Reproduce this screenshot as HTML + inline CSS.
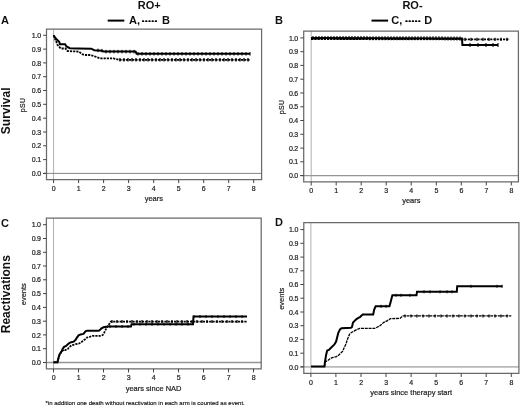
<!DOCTYPE html>
<html><head><meta charset="utf-8"><style>
html,body{margin:0;padding:0;background:#fff;width:520px;height:406px;overflow:hidden}
svg{display:block;filter:blur(0.3px)}
text{font-family:"Liberation Sans", sans-serif;fill:#111}
.tk{font-size:7.0px;letter-spacing:-0.25px;fill:#222;stroke:#222;stroke-width:0.2px}
.ax{font-size:7.5px;fill:#222;stroke:#222;stroke-width:0.2px}
.ax2{font-size:7px;fill:#222;letter-spacing:0.3px;stroke:#222;stroke-width:0.2px}
.pl{font-size:11px;font-weight:bold}
.ttl{font-size:11px;font-weight:bold}
.row{font-size:12px;font-weight:bold}
.fn{font-size:6px;stroke:#111;stroke-width:0.15px}
</style></head><body>
<svg width="520" height="406" viewBox="0 0 520 406">
<rect width="520" height="406" fill="#fff"/>
<line x1="53.6" y1="29.0" x2="53.6" y2="179.5" stroke="#b0b0b0" stroke-width="1"/>
<line x1="43.1" y1="173.4" x2="46.5" y2="173.4" stroke="#444" stroke-width="1"/>
<line x1="46.5" y1="173.4" x2="261.6" y2="173.4" stroke="#858585" stroke-width="1.0"/>
<path d="M46.5,179.5 L46.5,29.0 L261.6,29.0 L261.6,179.5 Z" fill="none" stroke="#6a6a6a" stroke-width="1.25"/>
<line x1="43.1" y1="173.4" x2="46.5" y2="173.4" stroke="#444" stroke-width="1"/>
<text x="40.8" y="176.0" text-anchor="end" class="tk">0.0</text>
<line x1="43.1" y1="159.6" x2="46.5" y2="159.6" stroke="#444" stroke-width="1"/>
<text x="40.8" y="162.2" text-anchor="end" class="tk">0.1</text>
<line x1="43.1" y1="145.8" x2="46.5" y2="145.8" stroke="#444" stroke-width="1"/>
<text x="40.8" y="148.4" text-anchor="end" class="tk">0.2</text>
<line x1="43.1" y1="132.0" x2="46.5" y2="132.0" stroke="#444" stroke-width="1"/>
<text x="40.8" y="134.6" text-anchor="end" class="tk">0.3</text>
<line x1="43.1" y1="118.2" x2="46.5" y2="118.2" stroke="#444" stroke-width="1"/>
<text x="40.8" y="120.8" text-anchor="end" class="tk">0.4</text>
<line x1="43.1" y1="104.3" x2="46.5" y2="104.3" stroke="#444" stroke-width="1"/>
<text x="40.8" y="106.9" text-anchor="end" class="tk">0.5</text>
<line x1="43.1" y1="90.5" x2="46.5" y2="90.5" stroke="#444" stroke-width="1"/>
<text x="40.8" y="93.1" text-anchor="end" class="tk">0.6</text>
<line x1="43.1" y1="76.7" x2="46.5" y2="76.7" stroke="#444" stroke-width="1"/>
<text x="40.8" y="79.3" text-anchor="end" class="tk">0.7</text>
<line x1="43.1" y1="62.9" x2="46.5" y2="62.9" stroke="#444" stroke-width="1"/>
<text x="40.8" y="65.5" text-anchor="end" class="tk">0.8</text>
<line x1="43.1" y1="49.1" x2="46.5" y2="49.1" stroke="#444" stroke-width="1"/>
<text x="40.8" y="51.7" text-anchor="end" class="tk">0.9</text>
<line x1="43.1" y1="35.3" x2="46.5" y2="35.3" stroke="#444" stroke-width="1"/>
<text x="40.8" y="37.9" text-anchor="end" class="tk">1.0</text>
<line x1="53.6" y1="179.5" x2="53.6" y2="183.1" stroke="#444" stroke-width="1"/>
<text x="53.6" y="191.0" text-anchor="middle" class="tk">0</text>
<line x1="78.6" y1="179.5" x2="78.6" y2="183.1" stroke="#444" stroke-width="1"/>
<text x="78.6" y="191.0" text-anchor="middle" class="tk">1</text>
<line x1="103.6" y1="179.5" x2="103.6" y2="183.1" stroke="#444" stroke-width="1"/>
<text x="103.6" y="191.0" text-anchor="middle" class="tk">2</text>
<line x1="128.6" y1="179.5" x2="128.6" y2="183.1" stroke="#444" stroke-width="1"/>
<text x="128.6" y="191.0" text-anchor="middle" class="tk">3</text>
<line x1="153.7" y1="179.5" x2="153.7" y2="183.1" stroke="#444" stroke-width="1"/>
<text x="153.7" y="191.0" text-anchor="middle" class="tk">4</text>
<line x1="178.7" y1="179.5" x2="178.7" y2="183.1" stroke="#444" stroke-width="1"/>
<text x="178.7" y="191.0" text-anchor="middle" class="tk">5</text>
<line x1="203.7" y1="179.5" x2="203.7" y2="183.1" stroke="#444" stroke-width="1"/>
<text x="203.7" y="191.0" text-anchor="middle" class="tk">6</text>
<line x1="228.7" y1="179.5" x2="228.7" y2="183.1" stroke="#444" stroke-width="1"/>
<text x="228.7" y="191.0" text-anchor="middle" class="tk">7</text>
<line x1="253.7" y1="179.5" x2="253.7" y2="183.1" stroke="#444" stroke-width="1"/>
<text x="253.7" y="191.0" text-anchor="middle" class="tk">8</text>
<line x1="311.2" y1="31.0" x2="311.2" y2="181.9" stroke="#b0b0b0" stroke-width="1"/>
<line x1="300.3" y1="175.6" x2="303.7" y2="175.6" stroke="#444" stroke-width="1"/>
<line x1="303.7" y1="175.6" x2="518.4" y2="175.6" stroke="#959595" stroke-width="1.2"/>
<path d="M303.7,181.9 L303.7,31.0 L518.4,31.0 L518.4,181.9 Z" fill="none" stroke="#6a6a6a" stroke-width="1.25"/>
<line x1="300.3" y1="175.6" x2="303.7" y2="175.6" stroke="#444" stroke-width="1"/>
<text x="298.0" y="178.2" text-anchor="end" class="tk">0.0</text>
<line x1="300.3" y1="161.8" x2="303.7" y2="161.8" stroke="#444" stroke-width="1"/>
<text x="298.0" y="164.4" text-anchor="end" class="tk">0.1</text>
<line x1="300.3" y1="148.1" x2="303.7" y2="148.1" stroke="#444" stroke-width="1"/>
<text x="298.0" y="150.7" text-anchor="end" class="tk">0.2</text>
<line x1="300.3" y1="134.3" x2="303.7" y2="134.3" stroke="#444" stroke-width="1"/>
<text x="298.0" y="136.9" text-anchor="end" class="tk">0.3</text>
<line x1="300.3" y1="120.5" x2="303.7" y2="120.5" stroke="#444" stroke-width="1"/>
<text x="298.0" y="123.1" text-anchor="end" class="tk">0.4</text>
<line x1="300.3" y1="106.8" x2="303.7" y2="106.8" stroke="#444" stroke-width="1"/>
<text x="298.0" y="109.3" text-anchor="end" class="tk">0.5</text>
<line x1="300.3" y1="93.0" x2="303.7" y2="93.0" stroke="#444" stroke-width="1"/>
<text x="298.0" y="95.6" text-anchor="end" class="tk">0.6</text>
<line x1="300.3" y1="79.2" x2="303.7" y2="79.2" stroke="#444" stroke-width="1"/>
<text x="298.0" y="81.8" text-anchor="end" class="tk">0.7</text>
<line x1="300.3" y1="65.4" x2="303.7" y2="65.4" stroke="#444" stroke-width="1"/>
<text x="298.0" y="68.0" text-anchor="end" class="tk">0.8</text>
<line x1="300.3" y1="51.7" x2="303.7" y2="51.7" stroke="#444" stroke-width="1"/>
<text x="298.0" y="54.3" text-anchor="end" class="tk">0.9</text>
<line x1="300.3" y1="37.9" x2="303.7" y2="37.9" stroke="#444" stroke-width="1"/>
<text x="298.0" y="40.5" text-anchor="end" class="tk">1.0</text>
<line x1="311.2" y1="181.9" x2="311.2" y2="185.5" stroke="#444" stroke-width="1"/>
<text x="311.2" y="193.4" text-anchor="middle" class="tk">0</text>
<line x1="336.2" y1="181.9" x2="336.2" y2="185.5" stroke="#444" stroke-width="1"/>
<text x="336.2" y="193.4" text-anchor="middle" class="tk">1</text>
<line x1="361.2" y1="181.9" x2="361.2" y2="185.5" stroke="#444" stroke-width="1"/>
<text x="361.2" y="193.4" text-anchor="middle" class="tk">2</text>
<line x1="386.2" y1="181.9" x2="386.2" y2="185.5" stroke="#444" stroke-width="1"/>
<text x="386.2" y="193.4" text-anchor="middle" class="tk">3</text>
<line x1="411.2" y1="181.9" x2="411.2" y2="185.5" stroke="#444" stroke-width="1"/>
<text x="411.2" y="193.4" text-anchor="middle" class="tk">4</text>
<line x1="436.3" y1="181.9" x2="436.3" y2="185.5" stroke="#444" stroke-width="1"/>
<text x="436.3" y="193.4" text-anchor="middle" class="tk">5</text>
<line x1="461.3" y1="181.9" x2="461.3" y2="185.5" stroke="#444" stroke-width="1"/>
<text x="461.3" y="193.4" text-anchor="middle" class="tk">6</text>
<line x1="486.3" y1="181.9" x2="486.3" y2="185.5" stroke="#444" stroke-width="1"/>
<text x="486.3" y="193.4" text-anchor="middle" class="tk">7</text>
<line x1="511.3" y1="181.9" x2="511.3" y2="185.5" stroke="#444" stroke-width="1"/>
<text x="511.3" y="193.4" text-anchor="middle" class="tk">8</text>
<line x1="53.5" y1="218.1" x2="53.5" y2="368.8" stroke="#b0b0b0" stroke-width="1"/>
<line x1="43.0" y1="362.5" x2="46.4" y2="362.5" stroke="#444" stroke-width="1"/>
<line x1="46.4" y1="362.5" x2="261.2" y2="362.5" stroke="#959595" stroke-width="1.3"/>
<path d="M46.4,368.8 L46.4,218.1 L261.2,218.1 L261.2,368.8 Z" fill="none" stroke="#6a6a6a" stroke-width="1.25"/>
<line x1="43.0" y1="362.5" x2="46.4" y2="362.5" stroke="#444" stroke-width="1"/>
<text x="40.7" y="365.1" text-anchor="end" class="tk">0.0</text>
<line x1="43.0" y1="348.7" x2="46.4" y2="348.7" stroke="#444" stroke-width="1"/>
<text x="40.7" y="351.3" text-anchor="end" class="tk">0.1</text>
<line x1="43.0" y1="334.9" x2="46.4" y2="334.9" stroke="#444" stroke-width="1"/>
<text x="40.7" y="337.5" text-anchor="end" class="tk">0.2</text>
<line x1="43.0" y1="321.2" x2="46.4" y2="321.2" stroke="#444" stroke-width="1"/>
<text x="40.7" y="323.8" text-anchor="end" class="tk">0.3</text>
<line x1="43.0" y1="307.4" x2="46.4" y2="307.4" stroke="#444" stroke-width="1"/>
<text x="40.7" y="310.0" text-anchor="end" class="tk">0.4</text>
<line x1="43.0" y1="293.6" x2="46.4" y2="293.6" stroke="#444" stroke-width="1"/>
<text x="40.7" y="296.2" text-anchor="end" class="tk">0.5</text>
<line x1="43.0" y1="279.8" x2="46.4" y2="279.8" stroke="#444" stroke-width="1"/>
<text x="40.7" y="282.4" text-anchor="end" class="tk">0.6</text>
<line x1="43.0" y1="266.0" x2="46.4" y2="266.0" stroke="#444" stroke-width="1"/>
<text x="40.7" y="268.6" text-anchor="end" class="tk">0.7</text>
<line x1="43.0" y1="252.3" x2="46.4" y2="252.3" stroke="#444" stroke-width="1"/>
<text x="40.7" y="254.9" text-anchor="end" class="tk">0.8</text>
<line x1="43.0" y1="238.5" x2="46.4" y2="238.5" stroke="#444" stroke-width="1"/>
<text x="40.7" y="241.1" text-anchor="end" class="tk">0.9</text>
<line x1="43.0" y1="224.7" x2="46.4" y2="224.7" stroke="#444" stroke-width="1"/>
<text x="40.7" y="227.3" text-anchor="end" class="tk">1.0</text>
<line x1="53.5" y1="368.8" x2="53.5" y2="372.4" stroke="#444" stroke-width="1"/>
<text x="53.5" y="380.3" text-anchor="middle" class="tk">0</text>
<line x1="78.5" y1="368.8" x2="78.5" y2="372.4" stroke="#444" stroke-width="1"/>
<text x="78.5" y="380.3" text-anchor="middle" class="tk">1</text>
<line x1="103.5" y1="368.8" x2="103.5" y2="372.4" stroke="#444" stroke-width="1"/>
<text x="103.5" y="380.3" text-anchor="middle" class="tk">2</text>
<line x1="128.5" y1="368.8" x2="128.5" y2="372.4" stroke="#444" stroke-width="1"/>
<text x="128.5" y="380.3" text-anchor="middle" class="tk">3</text>
<line x1="153.5" y1="368.8" x2="153.5" y2="372.4" stroke="#444" stroke-width="1"/>
<text x="153.5" y="380.3" text-anchor="middle" class="tk">4</text>
<line x1="178.5" y1="368.8" x2="178.5" y2="372.4" stroke="#444" stroke-width="1"/>
<text x="178.5" y="380.3" text-anchor="middle" class="tk">5</text>
<line x1="203.5" y1="368.8" x2="203.5" y2="372.4" stroke="#444" stroke-width="1"/>
<text x="203.5" y="380.3" text-anchor="middle" class="tk">6</text>
<line x1="228.5" y1="368.8" x2="228.5" y2="372.4" stroke="#444" stroke-width="1"/>
<text x="228.5" y="380.3" text-anchor="middle" class="tk">7</text>
<line x1="253.5" y1="368.8" x2="253.5" y2="372.4" stroke="#444" stroke-width="1"/>
<text x="253.5" y="380.3" text-anchor="middle" class="tk">8</text>
<line x1="310.9" y1="222.6" x2="310.9" y2="373.4" stroke="#b0b0b0" stroke-width="1"/>
<line x1="300.4" y1="366.9" x2="303.8" y2="366.9" stroke="#444" stroke-width="1"/>
<line x1="303.8" y1="366.9" x2="518.9" y2="366.9" stroke="#b8b8b8" stroke-width="1.6"/>
<path d="M303.8,373.4 L303.8,222.6 L518.9,222.6 L518.9,373.4 Z" fill="none" stroke="#6a6a6a" stroke-width="1.25"/>
<line x1="300.4" y1="366.9" x2="303.8" y2="366.9" stroke="#444" stroke-width="1"/>
<text x="298.1" y="369.5" text-anchor="end" class="tk">0.0</text>
<line x1="300.4" y1="353.2" x2="303.8" y2="353.2" stroke="#444" stroke-width="1"/>
<text x="298.1" y="355.8" text-anchor="end" class="tk">0.1</text>
<line x1="300.4" y1="339.4" x2="303.8" y2="339.4" stroke="#444" stroke-width="1"/>
<text x="298.1" y="342.0" text-anchor="end" class="tk">0.2</text>
<line x1="300.4" y1="325.7" x2="303.8" y2="325.7" stroke="#444" stroke-width="1"/>
<text x="298.1" y="328.3" text-anchor="end" class="tk">0.3</text>
<line x1="300.4" y1="312.0" x2="303.8" y2="312.0" stroke="#444" stroke-width="1"/>
<text x="298.1" y="314.6" text-anchor="end" class="tk">0.4</text>
<line x1="300.4" y1="298.2" x2="303.8" y2="298.2" stroke="#444" stroke-width="1"/>
<text x="298.1" y="300.9" text-anchor="end" class="tk">0.5</text>
<line x1="300.4" y1="284.5" x2="303.8" y2="284.5" stroke="#444" stroke-width="1"/>
<text x="298.1" y="287.1" text-anchor="end" class="tk">0.6</text>
<line x1="300.4" y1="270.8" x2="303.8" y2="270.8" stroke="#444" stroke-width="1"/>
<text x="298.1" y="273.4" text-anchor="end" class="tk">0.7</text>
<line x1="300.4" y1="257.1" x2="303.8" y2="257.1" stroke="#444" stroke-width="1"/>
<text x="298.1" y="259.7" text-anchor="end" class="tk">0.8</text>
<line x1="300.4" y1="243.3" x2="303.8" y2="243.3" stroke="#444" stroke-width="1"/>
<text x="298.1" y="245.9" text-anchor="end" class="tk">0.9</text>
<line x1="300.4" y1="229.6" x2="303.8" y2="229.6" stroke="#444" stroke-width="1"/>
<text x="298.1" y="232.2" text-anchor="end" class="tk">1.0</text>
<line x1="310.9" y1="373.4" x2="310.9" y2="377.0" stroke="#444" stroke-width="1"/>
<text x="310.9" y="384.9" text-anchor="middle" class="tk">0</text>
<line x1="335.9" y1="373.4" x2="335.9" y2="377.0" stroke="#444" stroke-width="1"/>
<text x="335.9" y="384.9" text-anchor="middle" class="tk">1</text>
<line x1="361.0" y1="373.4" x2="361.0" y2="377.0" stroke="#444" stroke-width="1"/>
<text x="361.0" y="384.9" text-anchor="middle" class="tk">2</text>
<line x1="386.0" y1="373.4" x2="386.0" y2="377.0" stroke="#444" stroke-width="1"/>
<text x="386.0" y="384.9" text-anchor="middle" class="tk">3</text>
<line x1="411.1" y1="373.4" x2="411.1" y2="377.0" stroke="#444" stroke-width="1"/>
<text x="411.1" y="384.9" text-anchor="middle" class="tk">4</text>
<line x1="436.1" y1="373.4" x2="436.1" y2="377.0" stroke="#444" stroke-width="1"/>
<text x="436.1" y="384.9" text-anchor="middle" class="tk">5</text>
<line x1="461.2" y1="373.4" x2="461.2" y2="377.0" stroke="#444" stroke-width="1"/>
<text x="461.2" y="384.9" text-anchor="middle" class="tk">6</text>
<line x1="486.2" y1="373.4" x2="486.2" y2="377.0" stroke="#444" stroke-width="1"/>
<text x="486.2" y="384.9" text-anchor="middle" class="tk">7</text>
<line x1="511.3" y1="373.4" x2="511.3" y2="377.0" stroke="#444" stroke-width="1"/>
<text x="511.3" y="384.9" text-anchor="middle" class="tk">8</text>
<polyline points="53.6,35.3 55.0,37.5 57.0,39.8 59.2,41.7 59.9,44.2 65.1,44.2 66.5,46.5 69.7,48.2 77.9,48.5 91.3,48.7 94.2,50.2 101.9,50.7 103.8,51.6 135.6,51.6 136.6,53.8 250.0,53.8" fill="none" stroke="#000" stroke-width="2.0" stroke-linejoin="miter"/>
<polyline points="53.6,35.3 56.5,42.3 57.4,44.8 60.8,48.5 65.4,48.5 67.6,51.1 78.8,51.6 80.8,53.1 82.7,54.5 85.6,55.0 90.4,55.0 93.3,55.9 96.2,56.9 100.0,58.3 113.5,58.3 117.3,59.3 119.2,59.8 250.0,59.8" fill="none" stroke="#000" stroke-width="1.8" stroke-linejoin="miter" stroke-dasharray="2.2,1.0"/>
<line x1="98.0" y1="48.6" x2="98.0" y2="52.2" stroke="#000" stroke-width="1.0"/>
<line x1="102.0" y1="48.9" x2="102.0" y2="52.5" stroke="#000" stroke-width="1.0"/>
<line x1="106.0" y1="49.8" x2="106.0" y2="53.4" stroke="#000" stroke-width="1.0"/>
<line x1="110.0" y1="49.8" x2="110.0" y2="53.4" stroke="#000" stroke-width="1.0"/>
<line x1="114.0" y1="49.8" x2="114.0" y2="53.4" stroke="#000" stroke-width="1.0"/>
<line x1="118.0" y1="49.8" x2="118.0" y2="53.4" stroke="#000" stroke-width="1.0"/>
<line x1="122.0" y1="49.8" x2="122.0" y2="53.4" stroke="#000" stroke-width="1.0"/>
<line x1="126.0" y1="49.8" x2="126.0" y2="53.4" stroke="#000" stroke-width="1.0"/>
<line x1="130.0" y1="49.8" x2="130.0" y2="53.4" stroke="#000" stroke-width="1.0"/>
<line x1="134.0" y1="49.8" x2="134.0" y2="53.4" stroke="#000" stroke-width="1.0"/>
<line x1="138.0" y1="52.0" x2="138.0" y2="55.6" stroke="#000" stroke-width="1.0"/>
<line x1="142.0" y1="52.0" x2="142.0" y2="55.6" stroke="#000" stroke-width="1.0"/>
<line x1="146.0" y1="52.0" x2="146.0" y2="55.6" stroke="#000" stroke-width="1.0"/>
<line x1="150.0" y1="52.0" x2="150.0" y2="55.6" stroke="#000" stroke-width="1.0"/>
<line x1="154.0" y1="52.0" x2="154.0" y2="55.6" stroke="#000" stroke-width="1.0"/>
<line x1="158.0" y1="52.0" x2="158.0" y2="55.6" stroke="#000" stroke-width="1.0"/>
<line x1="162.0" y1="52.0" x2="162.0" y2="55.6" stroke="#000" stroke-width="1.0"/>
<line x1="166.0" y1="52.0" x2="166.0" y2="55.6" stroke="#000" stroke-width="1.0"/>
<line x1="170.0" y1="52.0" x2="170.0" y2="55.6" stroke="#000" stroke-width="1.0"/>
<line x1="174.0" y1="52.0" x2="174.0" y2="55.6" stroke="#000" stroke-width="1.0"/>
<line x1="178.0" y1="52.0" x2="178.0" y2="55.6" stroke="#000" stroke-width="1.0"/>
<line x1="182.0" y1="52.0" x2="182.0" y2="55.6" stroke="#000" stroke-width="1.0"/>
<line x1="186.0" y1="52.0" x2="186.0" y2="55.6" stroke="#000" stroke-width="1.0"/>
<line x1="190.0" y1="52.0" x2="190.0" y2="55.6" stroke="#000" stroke-width="1.0"/>
<line x1="194.0" y1="52.0" x2="194.0" y2="55.6" stroke="#000" stroke-width="1.0"/>
<line x1="198.0" y1="52.0" x2="198.0" y2="55.6" stroke="#000" stroke-width="1.0"/>
<line x1="202.0" y1="52.0" x2="202.0" y2="55.6" stroke="#000" stroke-width="1.0"/>
<line x1="206.0" y1="52.0" x2="206.0" y2="55.6" stroke="#000" stroke-width="1.0"/>
<line x1="210.0" y1="52.0" x2="210.0" y2="55.6" stroke="#000" stroke-width="1.0"/>
<line x1="214.0" y1="52.0" x2="214.0" y2="55.6" stroke="#000" stroke-width="1.0"/>
<line x1="218.0" y1="52.0" x2="218.0" y2="55.6" stroke="#000" stroke-width="1.0"/>
<line x1="222.0" y1="52.0" x2="222.0" y2="55.6" stroke="#000" stroke-width="1.0"/>
<line x1="226.0" y1="52.0" x2="226.0" y2="55.6" stroke="#000" stroke-width="1.0"/>
<line x1="230.0" y1="52.0" x2="230.0" y2="55.6" stroke="#000" stroke-width="1.0"/>
<line x1="234.0" y1="52.0" x2="234.0" y2="55.6" stroke="#000" stroke-width="1.0"/>
<line x1="238.0" y1="52.0" x2="238.0" y2="55.6" stroke="#000" stroke-width="1.0"/>
<line x1="242.0" y1="52.0" x2="242.0" y2="55.6" stroke="#000" stroke-width="1.0"/>
<line x1="246.0" y1="52.0" x2="246.0" y2="55.6" stroke="#000" stroke-width="1.0"/>
<line x1="250.0" y1="52.0" x2="250.0" y2="55.6" stroke="#000" stroke-width="1.0"/>
<line x1="120.0" y1="58.0" x2="120.0" y2="61.6" stroke="#000" stroke-width="1.3"/>
<line x1="124.0" y1="58.0" x2="124.0" y2="61.6" stroke="#000" stroke-width="1.3"/>
<line x1="128.0" y1="58.0" x2="128.0" y2="61.6" stroke="#000" stroke-width="1.3"/>
<line x1="132.0" y1="58.0" x2="132.0" y2="61.6" stroke="#000" stroke-width="1.3"/>
<line x1="136.0" y1="58.0" x2="136.0" y2="61.6" stroke="#000" stroke-width="1.3"/>
<line x1="140.0" y1="58.0" x2="140.0" y2="61.6" stroke="#000" stroke-width="1.3"/>
<line x1="144.0" y1="58.0" x2="144.0" y2="61.6" stroke="#000" stroke-width="1.3"/>
<line x1="148.0" y1="58.0" x2="148.0" y2="61.6" stroke="#000" stroke-width="1.3"/>
<line x1="152.0" y1="58.0" x2="152.0" y2="61.6" stroke="#000" stroke-width="1.3"/>
<line x1="156.0" y1="58.0" x2="156.0" y2="61.6" stroke="#000" stroke-width="1.3"/>
<line x1="160.0" y1="58.0" x2="160.0" y2="61.6" stroke="#000" stroke-width="1.3"/>
<line x1="164.0" y1="58.0" x2="164.0" y2="61.6" stroke="#000" stroke-width="1.3"/>
<line x1="168.0" y1="58.0" x2="168.0" y2="61.6" stroke="#000" stroke-width="1.3"/>
<line x1="172.0" y1="58.0" x2="172.0" y2="61.6" stroke="#000" stroke-width="1.3"/>
<line x1="176.0" y1="58.0" x2="176.0" y2="61.6" stroke="#000" stroke-width="1.3"/>
<line x1="180.0" y1="58.0" x2="180.0" y2="61.6" stroke="#000" stroke-width="1.3"/>
<line x1="184.0" y1="58.0" x2="184.0" y2="61.6" stroke="#000" stroke-width="1.3"/>
<line x1="188.0" y1="58.0" x2="188.0" y2="61.6" stroke="#000" stroke-width="1.3"/>
<line x1="192.0" y1="58.0" x2="192.0" y2="61.6" stroke="#000" stroke-width="1.3"/>
<line x1="196.0" y1="58.0" x2="196.0" y2="61.6" stroke="#000" stroke-width="1.3"/>
<line x1="200.0" y1="58.0" x2="200.0" y2="61.6" stroke="#000" stroke-width="1.3"/>
<line x1="204.0" y1="58.0" x2="204.0" y2="61.6" stroke="#000" stroke-width="1.3"/>
<line x1="208.0" y1="58.0" x2="208.0" y2="61.6" stroke="#000" stroke-width="1.3"/>
<line x1="212.0" y1="58.0" x2="212.0" y2="61.6" stroke="#000" stroke-width="1.3"/>
<line x1="216.0" y1="58.0" x2="216.0" y2="61.6" stroke="#000" stroke-width="1.3"/>
<line x1="220.0" y1="58.0" x2="220.0" y2="61.6" stroke="#000" stroke-width="1.3"/>
<line x1="224.0" y1="58.0" x2="224.0" y2="61.6" stroke="#000" stroke-width="1.3"/>
<line x1="228.0" y1="58.0" x2="228.0" y2="61.6" stroke="#000" stroke-width="1.3"/>
<line x1="232.0" y1="58.0" x2="232.0" y2="61.6" stroke="#000" stroke-width="1.3"/>
<line x1="236.0" y1="58.0" x2="236.0" y2="61.6" stroke="#000" stroke-width="1.3"/>
<line x1="240.0" y1="58.0" x2="240.0" y2="61.6" stroke="#000" stroke-width="1.3"/>
<line x1="244.0" y1="58.0" x2="244.0" y2="61.6" stroke="#000" stroke-width="1.3"/>
<line x1="248.0" y1="58.0" x2="248.0" y2="61.6" stroke="#000" stroke-width="1.3"/>
<polyline points="311.0,38.0 462.0,38.4 462.4,45.1 498.0,45.1" fill="none" stroke="#000" stroke-width="2.0" stroke-linejoin="miter"/>
<polyline points="311.0,39.2 509.5,39.3" fill="none" stroke="#000" stroke-width="1.7" stroke-linejoin="miter" stroke-dasharray="2.2,1.0"/>
<line x1="313.0" y1="36.0" x2="313.0" y2="40.0" stroke="#000" stroke-width="1.1"/>
<line x1="316.0" y1="36.0" x2="316.0" y2="40.0" stroke="#000" stroke-width="1.1"/>
<line x1="319.0" y1="36.0" x2="319.0" y2="40.0" stroke="#000" stroke-width="1.1"/>
<line x1="322.0" y1="36.0" x2="322.0" y2="40.0" stroke="#000" stroke-width="1.1"/>
<line x1="325.0" y1="36.0" x2="325.0" y2="40.0" stroke="#000" stroke-width="1.1"/>
<line x1="328.0" y1="36.0" x2="328.0" y2="40.0" stroke="#000" stroke-width="1.1"/>
<line x1="331.0" y1="36.1" x2="331.0" y2="40.1" stroke="#000" stroke-width="1.1"/>
<line x1="334.0" y1="36.1" x2="334.0" y2="40.1" stroke="#000" stroke-width="1.1"/>
<line x1="337.0" y1="36.1" x2="337.0" y2="40.1" stroke="#000" stroke-width="1.1"/>
<line x1="340.0" y1="36.1" x2="340.0" y2="40.1" stroke="#000" stroke-width="1.1"/>
<line x1="343.0" y1="36.1" x2="343.0" y2="40.1" stroke="#000" stroke-width="1.1"/>
<line x1="346.0" y1="36.1" x2="346.0" y2="40.1" stroke="#000" stroke-width="1.1"/>
<line x1="349.0" y1="36.1" x2="349.0" y2="40.1" stroke="#000" stroke-width="1.1"/>
<line x1="352.0" y1="36.1" x2="352.0" y2="40.1" stroke="#000" stroke-width="1.1"/>
<line x1="355.0" y1="36.1" x2="355.0" y2="40.1" stroke="#000" stroke-width="1.1"/>
<line x1="358.0" y1="36.1" x2="358.0" y2="40.1" stroke="#000" stroke-width="1.1"/>
<line x1="361.0" y1="36.1" x2="361.0" y2="40.1" stroke="#000" stroke-width="1.1"/>
<line x1="364.0" y1="36.1" x2="364.0" y2="40.1" stroke="#000" stroke-width="1.1"/>
<line x1="367.0" y1="36.1" x2="367.0" y2="40.1" stroke="#000" stroke-width="1.1"/>
<line x1="370.0" y1="36.2" x2="370.0" y2="40.2" stroke="#000" stroke-width="1.1"/>
<line x1="373.0" y1="36.2" x2="373.0" y2="40.2" stroke="#000" stroke-width="1.1"/>
<line x1="376.0" y1="36.2" x2="376.0" y2="40.2" stroke="#000" stroke-width="1.1"/>
<line x1="379.0" y1="36.2" x2="379.0" y2="40.2" stroke="#000" stroke-width="1.1"/>
<line x1="382.0" y1="36.2" x2="382.0" y2="40.2" stroke="#000" stroke-width="1.1"/>
<line x1="385.0" y1="36.2" x2="385.0" y2="40.2" stroke="#000" stroke-width="1.1"/>
<line x1="388.0" y1="36.2" x2="388.0" y2="40.2" stroke="#000" stroke-width="1.1"/>
<line x1="391.0" y1="36.2" x2="391.0" y2="40.2" stroke="#000" stroke-width="1.1"/>
<line x1="394.0" y1="36.2" x2="394.0" y2="40.2" stroke="#000" stroke-width="1.1"/>
<line x1="397.0" y1="36.2" x2="397.0" y2="40.2" stroke="#000" stroke-width="1.1"/>
<line x1="400.0" y1="36.2" x2="400.0" y2="40.2" stroke="#000" stroke-width="1.1"/>
<line x1="403.0" y1="36.2" x2="403.0" y2="40.2" stroke="#000" stroke-width="1.1"/>
<line x1="406.0" y1="36.3" x2="406.0" y2="40.3" stroke="#000" stroke-width="1.1"/>
<line x1="409.0" y1="36.3" x2="409.0" y2="40.3" stroke="#000" stroke-width="1.1"/>
<line x1="412.0" y1="36.3" x2="412.0" y2="40.3" stroke="#000" stroke-width="1.1"/>
<line x1="415.0" y1="36.3" x2="415.0" y2="40.3" stroke="#000" stroke-width="1.1"/>
<line x1="418.0" y1="36.3" x2="418.0" y2="40.3" stroke="#000" stroke-width="1.1"/>
<line x1="421.0" y1="36.3" x2="421.0" y2="40.3" stroke="#000" stroke-width="1.1"/>
<line x1="424.0" y1="36.3" x2="424.0" y2="40.3" stroke="#000" stroke-width="1.1"/>
<line x1="427.0" y1="36.3" x2="427.0" y2="40.3" stroke="#000" stroke-width="1.1"/>
<line x1="430.0" y1="36.3" x2="430.0" y2="40.3" stroke="#000" stroke-width="1.1"/>
<line x1="433.0" y1="36.3" x2="433.0" y2="40.3" stroke="#000" stroke-width="1.1"/>
<line x1="436.0" y1="36.3" x2="436.0" y2="40.3" stroke="#000" stroke-width="1.1"/>
<line x1="439.0" y1="36.3" x2="439.0" y2="40.3" stroke="#000" stroke-width="1.1"/>
<line x1="442.0" y1="36.3" x2="442.0" y2="40.3" stroke="#000" stroke-width="1.1"/>
<line x1="445.0" y1="36.4" x2="445.0" y2="40.4" stroke="#000" stroke-width="1.1"/>
<line x1="448.0" y1="36.4" x2="448.0" y2="40.4" stroke="#000" stroke-width="1.1"/>
<line x1="451.0" y1="36.4" x2="451.0" y2="40.4" stroke="#000" stroke-width="1.1"/>
<line x1="454.0" y1="36.4" x2="454.0" y2="40.4" stroke="#000" stroke-width="1.1"/>
<line x1="457.0" y1="36.4" x2="457.0" y2="40.4" stroke="#000" stroke-width="1.1"/>
<line x1="460.0" y1="36.4" x2="460.0" y2="40.4" stroke="#000" stroke-width="1.1"/>
<line x1="470.0" y1="43.1" x2="470.0" y2="47.1" stroke="#000" stroke-width="1.1"/>
<line x1="478.0" y1="43.1" x2="478.0" y2="47.1" stroke="#000" stroke-width="1.1"/>
<line x1="486.0" y1="43.1" x2="486.0" y2="47.1" stroke="#000" stroke-width="1.1"/>
<line x1="493.0" y1="43.1" x2="493.0" y2="47.1" stroke="#000" stroke-width="1.1"/>
<line x1="498.0" y1="43.1" x2="498.0" y2="47.1" stroke="#000" stroke-width="1.1"/>
<line x1="465.0" y1="37.7" x2="465.0" y2="40.9" stroke="#000" stroke-width="1.2"/>
<line x1="471.0" y1="37.7" x2="471.0" y2="40.9" stroke="#000" stroke-width="1.2"/>
<line x1="477.0" y1="37.7" x2="477.0" y2="40.9" stroke="#000" stroke-width="1.2"/>
<line x1="483.0" y1="37.7" x2="483.0" y2="40.9" stroke="#000" stroke-width="1.2"/>
<line x1="489.0" y1="37.7" x2="489.0" y2="40.9" stroke="#000" stroke-width="1.2"/>
<line x1="495.0" y1="37.7" x2="495.0" y2="40.9" stroke="#000" stroke-width="1.2"/>
<line x1="501.0" y1="37.7" x2="501.0" y2="40.9" stroke="#000" stroke-width="1.2"/>
<line x1="507.0" y1="37.7" x2="507.0" y2="40.9" stroke="#000" stroke-width="1.2"/>
<polyline points="53.5,362.3 57.4,362.3 58.4,358.5 59.4,354.6 61.4,351.6 62.8,348.6 64.3,346.7 65.8,346.2 67.3,344.7 69.2,343.2 71.2,342.2 73.7,341.7 75.6,339.8 77.1,337.3 78.6,335.3 80.6,334.4 83.5,333.9 85.5,331.4 87.0,330.7 98.8,330.7 100.4,329.5 101.5,328.3 103.5,327.3 108.0,326.5 131.0,326.5 131.5,324.2 193.0,324.2 193.5,316.6 247.0,316.6" fill="none" stroke="#000" stroke-width="2.0" stroke-linejoin="miter"/>
<polyline points="53.5,362.3 57.4,362.3 58.4,358.5 59.4,355.5 61.0,352.5 62.3,351.1 63.8,349.6 65.3,350.1 67.8,349.1 69.2,347.2 71.7,345.2 74.2,344.7 75.6,344.2 78.6,343.7 80.6,342.7 82.5,341.3 84.5,339.8 87.0,337.6 90.4,336.6 92.7,335.8 100.4,335.8 102.7,335.1 104.2,332.8 105.4,330.1 107.3,327.0 109.6,323.5 110.8,321.6 247.0,321.6" fill="none" stroke="#000" stroke-width="1.7" stroke-linejoin="miter" stroke-dasharray="2.2,1.0"/>
<line x1="110.0" y1="325.0" x2="110.0" y2="328.0" stroke="#000" stroke-width="1.0"/>
<line x1="116.0" y1="325.0" x2="116.0" y2="328.0" stroke="#000" stroke-width="1.0"/>
<line x1="122.0" y1="325.0" x2="122.0" y2="328.0" stroke="#000" stroke-width="1.0"/>
<line x1="128.0" y1="325.0" x2="128.0" y2="328.0" stroke="#000" stroke-width="1.0"/>
<line x1="134.0" y1="322.7" x2="134.0" y2="325.7" stroke="#000" stroke-width="1.0"/>
<line x1="140.0" y1="322.7" x2="140.0" y2="325.7" stroke="#000" stroke-width="1.0"/>
<line x1="146.0" y1="322.7" x2="146.0" y2="325.7" stroke="#000" stroke-width="1.0"/>
<line x1="152.0" y1="322.7" x2="152.0" y2="325.7" stroke="#000" stroke-width="1.0"/>
<line x1="158.0" y1="322.7" x2="158.0" y2="325.7" stroke="#000" stroke-width="1.0"/>
<line x1="164.0" y1="322.7" x2="164.0" y2="325.7" stroke="#000" stroke-width="1.0"/>
<line x1="170.0" y1="322.7" x2="170.0" y2="325.7" stroke="#000" stroke-width="1.0"/>
<line x1="176.0" y1="322.7" x2="176.0" y2="325.7" stroke="#000" stroke-width="1.0"/>
<line x1="182.0" y1="322.7" x2="182.0" y2="325.7" stroke="#000" stroke-width="1.0"/>
<line x1="188.0" y1="322.7" x2="188.0" y2="325.7" stroke="#000" stroke-width="1.0"/>
<line x1="194.0" y1="315.1" x2="194.0" y2="318.1" stroke="#000" stroke-width="1.0"/>
<line x1="200.0" y1="315.1" x2="200.0" y2="318.1" stroke="#000" stroke-width="1.0"/>
<line x1="206.0" y1="315.1" x2="206.0" y2="318.1" stroke="#000" stroke-width="1.0"/>
<line x1="212.0" y1="315.1" x2="212.0" y2="318.1" stroke="#000" stroke-width="1.0"/>
<line x1="218.0" y1="315.1" x2="218.0" y2="318.1" stroke="#000" stroke-width="1.0"/>
<line x1="224.0" y1="315.1" x2="224.0" y2="318.1" stroke="#000" stroke-width="1.0"/>
<line x1="230.0" y1="315.1" x2="230.0" y2="318.1" stroke="#000" stroke-width="1.0"/>
<line x1="236.0" y1="315.1" x2="236.0" y2="318.1" stroke="#000" stroke-width="1.0"/>
<line x1="242.0" y1="315.1" x2="242.0" y2="318.1" stroke="#000" stroke-width="1.0"/>
<line x1="112.0" y1="320.1" x2="112.0" y2="323.1" stroke="#000" stroke-width="1.2"/>
<line x1="117.0" y1="320.1" x2="117.0" y2="323.1" stroke="#000" stroke-width="1.2"/>
<line x1="122.0" y1="320.1" x2="122.0" y2="323.1" stroke="#000" stroke-width="1.2"/>
<line x1="127.0" y1="320.1" x2="127.0" y2="323.1" stroke="#000" stroke-width="1.2"/>
<line x1="132.0" y1="320.1" x2="132.0" y2="323.1" stroke="#000" stroke-width="1.2"/>
<line x1="137.0" y1="320.1" x2="137.0" y2="323.1" stroke="#000" stroke-width="1.2"/>
<line x1="142.0" y1="320.1" x2="142.0" y2="323.1" stroke="#000" stroke-width="1.2"/>
<line x1="147.0" y1="320.1" x2="147.0" y2="323.1" stroke="#000" stroke-width="1.2"/>
<line x1="152.0" y1="320.1" x2="152.0" y2="323.1" stroke="#000" stroke-width="1.2"/>
<line x1="157.0" y1="320.1" x2="157.0" y2="323.1" stroke="#000" stroke-width="1.2"/>
<line x1="162.0" y1="320.1" x2="162.0" y2="323.1" stroke="#000" stroke-width="1.2"/>
<line x1="167.0" y1="320.1" x2="167.0" y2="323.1" stroke="#000" stroke-width="1.2"/>
<line x1="172.0" y1="320.1" x2="172.0" y2="323.1" stroke="#000" stroke-width="1.2"/>
<line x1="177.0" y1="320.1" x2="177.0" y2="323.1" stroke="#000" stroke-width="1.2"/>
<line x1="182.0" y1="320.1" x2="182.0" y2="323.1" stroke="#000" stroke-width="1.2"/>
<line x1="187.0" y1="320.1" x2="187.0" y2="323.1" stroke="#000" stroke-width="1.2"/>
<line x1="192.0" y1="320.1" x2="192.0" y2="323.1" stroke="#000" stroke-width="1.2"/>
<line x1="197.0" y1="320.1" x2="197.0" y2="323.1" stroke="#000" stroke-width="1.2"/>
<line x1="202.0" y1="320.1" x2="202.0" y2="323.1" stroke="#000" stroke-width="1.2"/>
<line x1="207.0" y1="320.1" x2="207.0" y2="323.1" stroke="#000" stroke-width="1.2"/>
<line x1="212.0" y1="320.1" x2="212.0" y2="323.1" stroke="#000" stroke-width="1.2"/>
<line x1="217.0" y1="320.1" x2="217.0" y2="323.1" stroke="#000" stroke-width="1.2"/>
<line x1="222.0" y1="320.1" x2="222.0" y2="323.1" stroke="#000" stroke-width="1.2"/>
<line x1="227.0" y1="320.1" x2="227.0" y2="323.1" stroke="#000" stroke-width="1.2"/>
<line x1="232.0" y1="320.1" x2="232.0" y2="323.1" stroke="#000" stroke-width="1.2"/>
<line x1="237.0" y1="320.1" x2="237.0" y2="323.1" stroke="#000" stroke-width="1.2"/>
<line x1="242.0" y1="320.1" x2="242.0" y2="323.1" stroke="#000" stroke-width="1.2"/>
<polyline points="311.0,366.6 324.4,366.6 325.0,361.6 326.1,354.9 327.2,350.5 328.9,349.9 330.5,348.3 332.2,346.6 334.4,344.4 336.1,341.6 337.2,337.2 338.3,332.8 340.0,329.4 341.5,328.3 351.0,327.8 352.0,327.0 353.0,322.6 354.4,321.1 355.9,319.6 357.9,318.2 359.9,317.2 361.3,315.7 362.8,314.4 373.2,314.4 374.1,309.8 375.6,306.3 389.4,306.3 390.4,302.9 391.4,298.9 392.4,295.3 416.5,295.3 417.0,291.8 456.8,291.8 457.2,286.3 502.4,286.3" fill="none" stroke="#000" stroke-width="2.0" stroke-linejoin="miter"/>
<polyline points="324.4,366.6 325.5,361.6 327.8,360.5 330.0,358.8 332.2,357.7 334.4,357.2 336.6,356.6 338.8,354.9 341.1,352.7 342.7,351.1 344.4,347.2 346.1,343.8 347.2,340.0 348.3,337.2 349.4,334.4 351.0,332.8 353.3,331.5 356.6,329.6 359.9,328.4 374.6,328.4 376.6,327.5 379.6,326.0 383.5,322.6 387.4,320.6 390.4,318.6 400.0,318.4 403.0,315.9 511.3,315.9" fill="none" stroke="#000" stroke-width="1.3" stroke-linejoin="miter" stroke-dasharray="3,0.8"/>
<line x1="381.0" y1="304.8" x2="381.0" y2="307.8" stroke="#000" stroke-width="1.0"/>
<line x1="386.0" y1="304.8" x2="386.0" y2="307.8" stroke="#000" stroke-width="1.0"/>
<line x1="396.0" y1="293.8" x2="396.0" y2="296.8" stroke="#000" stroke-width="1.0"/>
<line x1="401.0" y1="293.8" x2="401.0" y2="296.8" stroke="#000" stroke-width="1.0"/>
<line x1="410.0" y1="293.8" x2="410.0" y2="296.8" stroke="#000" stroke-width="1.0"/>
<line x1="424.0" y1="290.3" x2="424.0" y2="293.3" stroke="#000" stroke-width="1.0"/>
<line x1="430.0" y1="290.3" x2="430.0" y2="293.3" stroke="#000" stroke-width="1.0"/>
<line x1="440.0" y1="290.3" x2="440.0" y2="293.3" stroke="#000" stroke-width="1.0"/>
<line x1="447.0" y1="290.3" x2="447.0" y2="293.3" stroke="#000" stroke-width="1.0"/>
<line x1="452.0" y1="290.3" x2="452.0" y2="293.3" stroke="#000" stroke-width="1.0"/>
<line x1="471.0" y1="284.8" x2="471.0" y2="287.8" stroke="#000" stroke-width="1.0"/>
<line x1="497.0" y1="284.8" x2="497.0" y2="287.8" stroke="#000" stroke-width="1.0"/>
<line x1="502.0" y1="284.8" x2="502.0" y2="287.8" stroke="#000" stroke-width="1.0"/>
<line x1="405.0" y1="314.4" x2="405.0" y2="317.4" stroke="#000" stroke-width="1.2"/>
<line x1="411.0" y1="314.4" x2="411.0" y2="317.4" stroke="#000" stroke-width="1.2"/>
<line x1="417.0" y1="314.4" x2="417.0" y2="317.4" stroke="#000" stroke-width="1.2"/>
<line x1="423.0" y1="314.4" x2="423.0" y2="317.4" stroke="#000" stroke-width="1.2"/>
<line x1="429.0" y1="314.4" x2="429.0" y2="317.4" stroke="#000" stroke-width="1.2"/>
<line x1="435.0" y1="314.4" x2="435.0" y2="317.4" stroke="#000" stroke-width="1.2"/>
<line x1="441.0" y1="314.4" x2="441.0" y2="317.4" stroke="#000" stroke-width="1.2"/>
<line x1="447.0" y1="314.4" x2="447.0" y2="317.4" stroke="#000" stroke-width="1.2"/>
<line x1="453.0" y1="314.4" x2="453.0" y2="317.4" stroke="#000" stroke-width="1.2"/>
<line x1="459.0" y1="314.4" x2="459.0" y2="317.4" stroke="#000" stroke-width="1.2"/>
<line x1="465.0" y1="314.4" x2="465.0" y2="317.4" stroke="#000" stroke-width="1.2"/>
<line x1="471.0" y1="314.4" x2="471.0" y2="317.4" stroke="#000" stroke-width="1.2"/>
<line x1="477.0" y1="314.4" x2="477.0" y2="317.4" stroke="#000" stroke-width="1.2"/>
<line x1="483.0" y1="314.4" x2="483.0" y2="317.4" stroke="#000" stroke-width="1.2"/>
<line x1="489.0" y1="314.4" x2="489.0" y2="317.4" stroke="#000" stroke-width="1.2"/>
<line x1="495.0" y1="314.4" x2="495.0" y2="317.4" stroke="#000" stroke-width="1.2"/>
<line x1="501.0" y1="314.4" x2="501.0" y2="317.4" stroke="#000" stroke-width="1.2"/>
<line x1="507.0" y1="314.4" x2="507.0" y2="317.4" stroke="#000" stroke-width="1.2"/>
<text x="1.0" y="24.0" text-anchor="start" class="pl">A</text>
<text x="275.0" y="24.0" text-anchor="start" class="pl">B</text>
<text x="1.0" y="226.6" text-anchor="start" class="pl">C</text>
<text x="275.0" y="226.0" text-anchor="start" class="pl">D</text>
<text x="149.2" y="9.1" text-anchor="middle" class="ttl">RO+</text>
<text x="412.5" y="9.1" text-anchor="middle" class="ttl">RO-</text>
<line x1="107.7" y1="20.6" x2="124.3" y2="20.6" stroke="#000" stroke-width="2"/>
<text x="129.0" y="23.8" text-anchor="start" class="ttl">A,</text>
<line x1="142.8" y1="21.2" x2="158.4" y2="21.2" stroke="#000" stroke-width="1.8" stroke-linecap="round" stroke-dasharray="0.6,2.6"/>
<text x="162.0" y="23.8" text-anchor="start" class="ttl">B</text>
<line x1="371.5" y1="20.6" x2="388.1" y2="20.6" stroke="#000" stroke-width="2"/>
<text x="391.3" y="23.8" text-anchor="start" class="ttl">C,</text>
<line x1="406.2" y1="21.2" x2="421.8" y2="21.2" stroke="#000" stroke-width="1.8" stroke-linecap="round" stroke-dasharray="0.6,2.6"/>
<text x="424.3" y="23.8" text-anchor="start" class="ttl">D</text>
<text x="10.3" y="110.8" text-anchor="middle" class="row" transform="rotate(-90 10.3 110.8)">Survival</text>
<text x="10.0" y="294.2" text-anchor="middle" class="row" transform="rotate(-90 10.0 294.2)">Reactivations</text>
<text x="25.0" y="105.0" text-anchor="middle" class="ax2" transform="rotate(-90 25.0 105.0)">pSU</text>
<text x="284.0" y="107.0" text-anchor="middle" class="ax2" transform="rotate(-90 284.0 107.0)">pSU</text>
<text x="26.0" y="294.2" text-anchor="middle" class="ax" transform="rotate(-90 26.0 294.2)">events</text>
<text x="284.0" y="298.8" text-anchor="middle" class="ax" transform="rotate(-90 284.0 298.8)">events</text>
<text x="153.8" y="200.9" text-anchor="middle" class="ax">years</text>
<text x="411.3" y="203.0" text-anchor="middle" class="ax">years</text>
<text x="153.6" y="390.9" text-anchor="middle" class="ax">years since NAD</text>
<text x="411.2" y="394.6" text-anchor="middle" class="ax">years since therapy start</text>
<text x="45.6" y="405.1" text-anchor="start" class="fn">*in addition one death without reactivation in each arm is counted as event.</text>
</svg>
</body></html>
